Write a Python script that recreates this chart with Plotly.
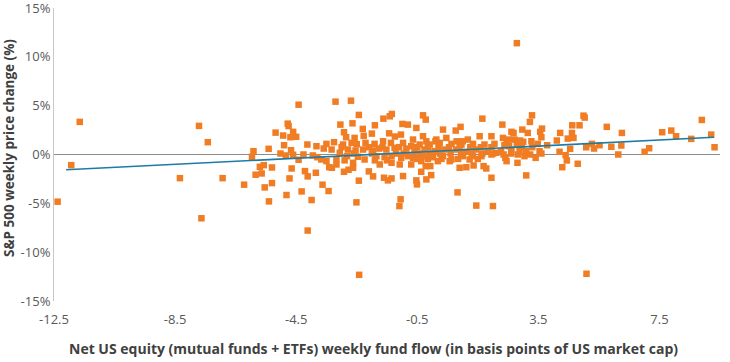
import plotly.graph_objects as go

# Net US equity weekly fund flow (bp of US market cap)
flow = [
    -12.38, -11.93, -11.65, -8.34, -7.71, -7.42, -7.63, -6.93, -6.22,
    -4.42, -4.78, -4.75, -5.18, -4.93, -4.69, -4.50, -4.60, -4.90, -4.13, -3.83,
    -5.41, -5.91, -4.67, -5.02, -4.84, -4.60, -4.26, -3.95, -5.96, -4.42, -3.80,
    -5.57, -5.70, -5.30, -4.65, -4.21, -5.84, -5.64, -3.85, -4.12, -4.72, -5.30,
    -5.54, -4.32, -4.82, -5.40, -3.99, -3.43, -2.51, -1.05, -1.09, 0.83, 1.45,
    2.00, -4.12, -2.42, 5.09,
    -3.20, -2.69, -2.43, -1.62, -1.41, -1.34, -3.04, -2.64, -2.30, -1.90, -0.99,
    -0.81, -2.92, -2.85, -2.57, -2.27, -2.00, -1.43, -1.24, -1.04, -3.50, -3.25,
    -2.95, -2.67, -2.50, -2.21, -1.91, -1.63, -1.37, -0.97, -3.59, -3.33, -3.06,
    -2.79, -2.54, -2.29, -1.96, -1.76, -1.52, -1.25, -0.86, -3.67, -3.50, -3.17,
    -2.82, -2.46, -2.24, -1.85, -1.58, -1.35, -1.03, -0.81, -3.17, -2.62, -1.74,
    -1.35, -1.08, -3.41, -3.32, -2.92, -2.77, -2.62, -2.10, -1.96, -1.60, -1.47,
    -1.35, -0.97, -2.43, -3.63,
    -0.31, -0.22, 1.65, -0.53, 0.35, 0.77, 0.93, -0.64, -0.31, 0.13, 0.46,
    1.17, 1.56, 1.95, -0.70, -0.42, -0.09, 0.24, 0.63, 0.96, 1.34, 1.72, 2.05,
    -0.59, -0.26, 0.07, 0.40, 0.79, 1.12, 1.45, 1.83, 2.11, -0.64, -0.31, 0.02,
    0.35, 0.63, 1.01, 1.34, 1.62, 1.95, -0.70, -0.37, 0.18, 0.57, 1.23, -0.22,
    -0.07, 0.90, 1.12, 1.36, 1.69, 1.78, -0.37, -0.04, 1.95, -0.53, -0.20, -0.51,
    2.45, 2.81, 3.10,
    3.29, 3.22, 4.99, 2.31, 2.97, 3.15, 3.62, 3.56, 4.22, 4.62, 4.86, 4.61,
    2.33, 2.61, 2.68, 2.53, 2.71, 2.90, 3.27, 3.60, 4.11, 4.47, 4.66, 2.38,
    2.53, 2.79, 3.48, 3.79, 5.08, 2.27, 2.61, 2.88, 3.10, 3.54, 4.20, 4.55,
    2.35, 2.82, 3.04, 3.23, 4.40, 2.41, 3.41, 4.44, 4.29, 4.80,
    5.03, 5.76, 6.26, 5.27, 5.52, 5.34, 5.91, 6.24, 6.14, 7.01, 7.16, 7.59,
    7.89, 8.05, 8.55, 8.90, 9.21, 9.32, 2.79,
    # dense core
    -0.50, -0.15, 0.20, 0.55, 0.90, 1.25, 1.60, 1.95,
    -0.45, -0.10, 0.25, 0.60, 0.95, 1.30, 1.65, 2.00,
    -0.50, -0.15, 0.30, 0.85, 1.50,
    -0.20, 0.10, 0.80, 1.00,
    -2.10, -1.65, -1.10, -3.00,
    -2.60, -2.00, -1.20, -0.95,
    -1.90, -1.50, -2.90,
    2.95, 3.30, 2.60, 3.60, 2.45, 3.00,
]

# S&P 500 weekly price change (%)
price_change = [
    -4.83, -1.09, 3.34, -2.42, 2.93, 1.26, -6.53, -2.42, -3.09,
    5.10, 3.16, 2.91, 2.24, 1.94, 1.77, 1.81, 2.32, 0.95, 1.02, 0.85,
    0.58, 0.34, 0.44, 0.10, -0.10, -0.03, 0.00, -0.10, -0.23, -0.54, -0.28,
    -1.09, -1.26, -1.33, -1.43, -1.70, -2.07, -1.94, -1.87, -2.24, -2.45, -2.93,
    -3.37, -3.78, -4.15, -4.80, -4.66, -3.74, -4.90, -4.59, -5.28, -3.88, -5.23,
    -5.28, -7.79, -12.32, -12.21,
    5.41, 5.51, 4.05, 3.67, 3.91, 4.15, 3.06, 3.19, 2.62, 2.99, 3.13,
    3.06, 2.28, 1.77, 1.70, 1.91, 2.14, 2.17, 1.84, 2.04, 1.09, 1.26,
    1.02, 1.19, 1.05, 1.19, 1.09, 1.36, 1.19, 1.19, 0.61, 0.51, 0.17,
    0.51, 0.41, 0.51, 0.41, 0.61, 0.51, 0.68, 0.61, -0.51, -0.68, -0.51,
    -0.17, -0.23, -0.51, -0.17, -0.28, -0.17, -0.34, -0.17, -1.02, -0.85, -1.02,
    -0.85, -1.02, -1.30, -1.36, -1.77, -1.56, -1.36, -1.73, -2.24, -2.38, -2.65,
    -2.45, -2.21, -2.68, -3.09,
    4.01, 3.57, 3.67, 2.72, 2.55, 2.45, 2.83, 1.53, 1.87, 1.53, 1.70,
    1.53, 1.87, 1.87, 0.85, 1.02, 1.02, 1.19, 1.09, 1.02, 1.09, 1.02, 1.09,
    0.34, 0.51, 0.34, 0.51, 0.51, 0.28, 0.51, 0.34, 0.17, -0.34, -0.17, -0.28,
    -0.17, -0.51, -0.17, -0.17, -0.17, 0.00, -1.02, -0.68, -0.68, -0.68, -0.51, -1.19,
    -1.19, -1.36, -1.30, -1.12, -1.19, -1.43, -1.77, -2.11, -2.38, -2.65, -2.55, -3.06,
    -0.68, -0.85, -2.14,
    4.01, 3.34, 3.98, 3.06, 2.55, 2.21, 2.65, 2.32, 2.21, 2.99, 2.99, 2.21,
    1.70, 2.32, 2.21, 1.53, 1.53, 1.43, 1.36, 1.77, 1.43, 1.63, 1.70, 0.95,
    0.85, 1.09, 1.09, 0.95, 0.74, 0.34, 0.51, 0.41, 0.34, 0.34, 0.28, 0.58,
    0.00, 0.00, -0.17, 0.00, -0.07, -0.34, -0.34, -0.61, -1.30, -0.95,
    3.78, 2.83, 2.21, 1.09, 0.95, 0.61, 0.79, 0.92, 0.00, 0.28, 0.64, 2.28,
    2.45, 1.87, 1.60, 3.54, 2.04, 0.74, 11.40,
    # dense core
    0.75, 0.75, 0.75, 0.75, 0.75, 0.75, 0.75, 0.75,
    0.10, 0.10, 0.10, 0.10, 0.10, 0.10, 0.10, 0.10,
    -0.45, -0.45, -0.45, -0.45, -0.45,
    1.35, 1.35, 1.35, 1.35,
    0.75, 0.75, 0.75, 0.75,
    0.10, 0.10, 0.10, 0.10,
    -0.60, -0.60, -0.60,
    0.75, 0.75, 0.10, 0.10, 1.30, 1.30,
]

# Linear trendline end points
trend_x = [-12.1, 9.3]
trend_y = [-1.56, 1.76]

x_ticks = [-12.5, -8.5, -4.5, -0.5, 3.5, 7.5]
x_tick_labels = ["-12.5", "-8.5", "-4.5", "-0.5", "3.5", "7.5"]
y_ticks = [-15, -10, -5, 0, 5, 10, 15]
y_tick_labels = ["-15%", "-10%", "-5%", "0%", "5%", "10%", "15%"]

x_title = "Net US equity (mutual funds + ETFs) weekly fund flow (in basis points of US market cap)"
y_title = "S&P 500 weekly price change (%)"

fig = go.Figure()
fig.add_trace(go.Scatter(
    x=flow, y=price_change, mode="markers",
    marker=dict(symbol="square", size=6.5, color="#F07D24", line=dict(width=0)),
    showlegend=False, hoverinfo="x+y",
))
fig.add_trace(go.Scatter(
    x=trend_x, y=trend_y, mode="lines",
    line=dict(color="#1C7CA3", width=1.6),
    showlegend=False, hoverinfo="skip",
))

font_family = "Open Sans, sans-serif"
fig.update_layout(
    width=730, height=362,
    margin=dict(l=54, r=10, t=8, b=61, autoexpand=False),
    paper_bgcolor="white", plot_bgcolor="white",
    font=dict(family=font_family, size=13, color="#595959"),
    xaxis=dict(
        range=[-12.5, 9.5], tickvals=x_ticks, ticktext=x_tick_labels,
        showgrid=False, zeroline=False, showline=False, ticks="",
        ticklabelstandoff=9, ticklabeloverflow="allow", automargin=False,
        tickfont=dict(size=13, color="#595959"),
    ),
    yaxis=dict(
        range=[-15, 15], tickvals=y_ticks, ticktext=y_tick_labels,
        showgrid=False, zeroline=True, zerolinecolor="#8C8C8C", zerolinewidth=1,
        showline=True, linecolor="#C8C8C8", linewidth=1, ticks="",
        ticklabeloverflow="allow", automargin=False,
        tickfont=dict(size=13, color="#595959"),
    ),
    annotations=[
        dict(text=x_title, xref="paper", yref="paper", x=(373 - 54) / 666, y=-47 / 293,
             xanchor="center", yanchor="middle", showarrow=False,
             font=dict(family=font_family, size=14, color="#404040", weight="bold")),
        dict(text=y_title, xref="paper", yref="paper", x=-45 / 666, y=(301 - 148) / 293,
             xanchor="center", yanchor="middle", showarrow=False, textangle=-90,
             font=dict(family=font_family, size=13.5, color="#404040", weight="bold")),
    ],
)

fig.write_html(
    "out.html",
    config={"displayModeBar": False},
    post_script="document.body.style.margin='0';document.body.style.padding='0';",
)
